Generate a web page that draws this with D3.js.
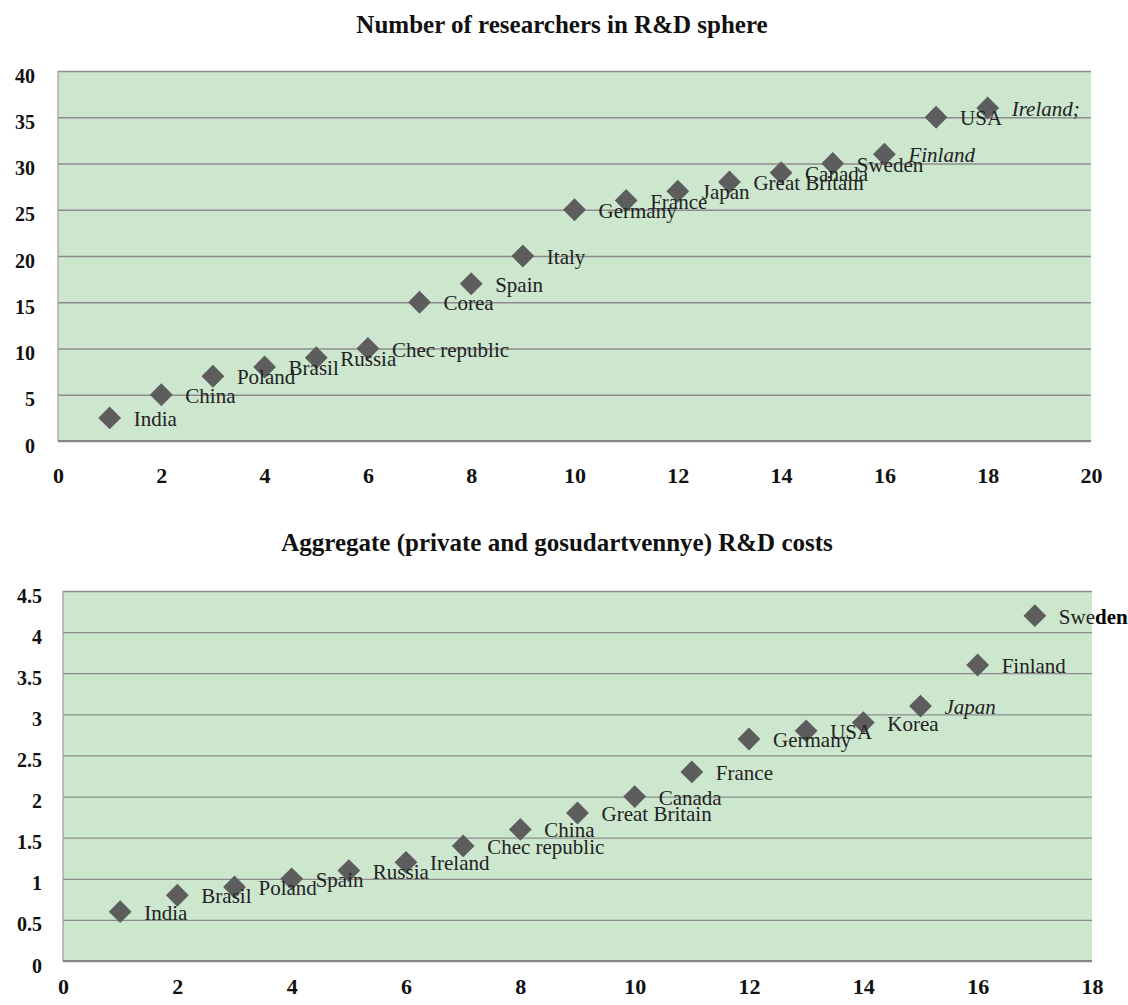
<!DOCTYPE html>
<html>
<head>
<meta charset="utf-8">
<script src="https://cdn.jsdelivr.net/npm/d3@7"></script>
<style>
  body { margin: 0; background: #fff; }
  svg { display: block; font-family: 'Liberation Serif', 'Times New Roman', serif; }
  svg text { font-family: 'Liberation Serif', 'Times New Roman', serif; }
</style>
</head>
<body>
<div id="chartContainer"></div>
<script>
// Number of researchers in R&D sphere
var researchCountries = ['India', 'China', 'Poland', 'Brasil', 'Russia', 'Chec republic', 'Corea', 'Spain', 'Italy',
    'Germany', 'France', 'Japan', 'Great Britain', 'Canada', 'Sweden', 'Finland', 'USA', 'Ireland;'];
var researchRank = [1, 2, 3, 4, 5, 6, 7, 8, 9, 10, 11, 12, 13, 14, 15, 16, 17, 18];
var researchValues = [2.5, 5, 7, 8, 9, 10, 15, 17, 20, 25, 26, 27, 28, 29, 30, 31, 35, 36];
var researchXTicks = [0, 2, 4, 6, 8, 10, 12, 14, 16, 18, 20];
var researchYTicks = [0, 5, 10, 15, 20, 25, 30, 35, 40];
var researchYLabels = ['0', '5', '10', '15', '20', '25', '30', '35', '40'];

// Aggregate R&D costs
var costCountries = ['India', 'Brasil', 'Poland', 'Spain', 'Russia', 'Ireland', 'Chec republic', 'China',
    'Great Britain', 'Canada', 'France', 'Germany', 'USA', 'Korea', 'Japan', 'Finland', 'Sweden'];
var costRank = [1, 2, 3, 4, 5, 6, 7, 8, 9, 10, 11, 12, 13, 14, 15, 16, 17];
var costValues = [0.6, 0.8, 0.9, 1.0, 1.1, 1.2, 1.4, 1.6, 1.8, 2.0, 2.3, 2.7, 2.8, 2.9, 3.1, 3.6, 4.2];
var costXTicks = [0, 2, 4, 6, 8, 10, 12, 14, 16, 18];
var costYTicks = [0, 0.5, 1, 1.5, 2, 2.5, 3, 3.5, 4, 4.5];
var costYLabels = ['0', '0.5', '1', '1.5', '2', '2.5', '3', '3.5', '4', '4.5'];

var svgContainer = d3
    .select('#chartContainer')
    .append('svg')
    .attr('width', 1128)
    .attr('height', 1005);

function drawPanel(cfg) {
    var g = svgContainer.append('g');

    var xScale = d3.scaleLinear().domain([0, cfg.xMax]).range([cfg.left, cfg.right]);
    var yScale = d3.scaleLinear().domain([0, cfg.yMax]).range([cfg.bottom, cfg.top]);

    // title
    g.append('text')
        .attr('x', cfg.titleX)
        .attr('y', cfg.titleY)
        .attr('text-anchor', 'middle')
        .style('font-size', '25px')
        .style('font-weight', 'bold')
        .style('fill', '#111')
        .text(cfg.title);

    // plot background
    g.append('rect')
        .attr('x', cfg.left)
        .attr('y', cfg.top)
        .attr('width', cfg.right - cfg.left)
        .attr('height', cfg.bottom - cfg.top)
        .style('fill', '#cde6ce');

    // gridlines + y labels
    var yAxis = d3.axisLeft(yScale)
        .tickValues(cfg.yTicks)
        .tickFormat(function (d, i) { return cfg.yLabels[i]; })
        .tickSize(-(cfg.right - cfg.left))
        .tickPadding(cfg.yPad);

    var yG = g.append('g')
        .attr('transform', 'translate(' + cfg.left + ',0)')
        .call(yAxis)
        .attr('font-family', null)
        .attr('font-size', null);
    yG.select('.domain').remove();
    yG.selectAll('line').style('stroke', '#8c8c8c').style('stroke-width', 1.3);
    yG.selectAll('text')
        .attr('dy', '0.55em')
        .style('font-size', '20px')
        .style('font-weight', 'bold')
        .style('fill', '#111');

    // left and bottom axis lines
    g.append('line')
        .attr('x1', cfg.left).attr('x2', cfg.left)
        .attr('y1', cfg.top).attr('y2', cfg.bottom)
        .style('stroke', '#9a9a9a').style('stroke-width', 1.2);

    var xAxis = d3.axisBottom(xScale)
        .tickValues(cfg.xTicks)
        .tickFormat(d3.format('d'))
        .tickSize(0)
        .tickPadding(cfg.xPad);

    var xG = g.append('g')
        .attr('transform', 'translate(0,' + cfg.bottom + ')')
        .call(xAxis)
        .attr('font-family', null)
        .attr('font-size', null);
    xG.select('.domain')
        .attr('d', 'M' + cfg.left + ',0H' + cfg.right)
        .style('stroke', '#858585')
        .style('stroke-width', 2);
    xG.selectAll('text')
        .style('font-size', '22px')
        .style('font-weight', 'bold')
        .style('fill', '#111');

    // markers
    var diamond = d3.symbol().type(d3.symbolSquare).size(260);
    g.selectAll('path.pt')
        .data(cfg.values)
        .enter()
        .append('path')
        .attr('class', 'pt')
        .attr('d', diamond)
        .attr('transform', function (d, i) {
            return 'translate(' + xScale(cfg.ranks[i]) + ',' + yScale(d) + ') rotate(45)';
        })
        .style('fill', '#5d5d5d');

    // data labels
    var labels = g.selectAll('text.lbl')
        .data(cfg.values)
        .enter()
        .append('text')
        .attr('class', 'lbl')
        .attr('x', function (d, i) { return xScale(cfg.ranks[i]) + 24; })
        .attr('y', function (d) { return yScale(d) + 8; })
        .style('font-size', '21px')
        .style('fill', '#222')
        .style('font-style', function (d, i) {
            return cfg.italic.indexOf(cfg.names[i]) >= 0 ? 'italic' : 'normal';
        });

    labels.each(function (d, i) {
        var name = cfg.names[i];
        var cut = cfg.boldTail[name];
        var t = d3.select(this);
        if (cut === undefined) {
            t.text(name);
        } else {
            t.append('tspan').text(name.substring(0, cut));
            t.append('tspan').style('font-weight', 'bold').style('fill', '#000').text(name.substring(cut));
        }
    });
}

drawPanel({
    title: 'Number of researchers in R&D sphere',
    titleX: 562, titleY: 33,
    left: 58, right: 1091, top: 71, bottom: 441,
    xMax: 20, yMax: 40,
    xTicks: researchXTicks, yTicks: researchYTicks, yLabels: researchYLabels,
    yPad: 23, xPad: 26,
    names: researchCountries, ranks: researchRank, values: researchValues,
    italic: ['Ireland;', 'Finland'], boldTail: {}
});

drawPanel({
    title: 'Aggregate (private and gosudartvennye) R&D costs',
    titleX: 557, titleY: 551,
    left: 63, right: 1092, top: 591, bottom: 961,
    xMax: 18, yMax: 4.5,
    xTicks: costXTicks, yTicks: costYTicks, yLabels: costYLabels,
    yPad: 21, xPad: 17,
    names: costCountries, ranks: costRank, values: costValues,
    italic: ['Japan'], boldTail: { 'Sweden': 3 }
});
</script>
</body>
</html>
